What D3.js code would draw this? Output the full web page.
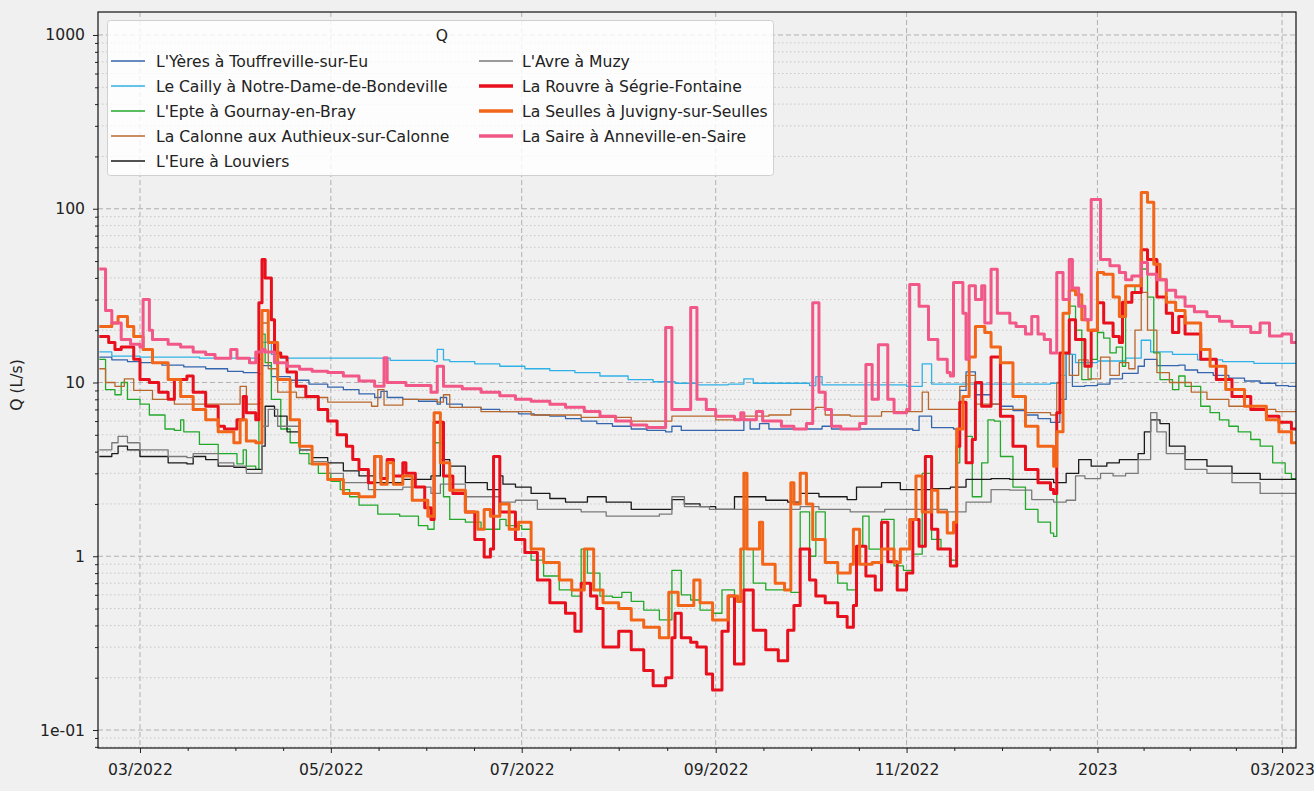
<!DOCTYPE html>
<html><head><meta charset="utf-8">
<script src="https://cdn.jsdelivr.net/npm/d3@7"></script>
<style>
body{margin:0;background:#f0f0f0;}
svg{display:block;font-family:"DejaVu Sans",sans-serif;}
</style>
</head><body>
<svg id="chart" width="1314" height="791"></svg>
<script>
// ---------------- DATA ----------------
const seriesNames = [
  "L'Yères à Touffreville-sur-Eu",
  "Le Cailly à Notre-Dame-de-Bondeville",
  "L'Epte à Gournay-en-Bray",
  "La Calonne aux Authieux-sur-Calonne",
  "L'Eure à Louviers",
  "L'Avre à Muzy",
  "La Rouvre à Ségrie-Fontaine",
  "La Seulles à Juvigny-sur-Seulles",
  "La Saire à Anneville-en-Saire"
];
const legendTitle = "Q";
const yAxisLabel = "Q (L/s)";
const yTickValues = [0.1, 1, 10, 100, 1000];
const yTickLabels = ["1e-01", "1", "10", "100", "1000"];
const xTickDates = ["2022-03-01","2022-05-01","2022-07-01","2022-09-01","2022-11-01","2023-01-01","2023-03-01"];
const xTickLabels = ["03/2022","05/2022","07/2022","09/2022","11/2022","2023","03/2023"];

const yeres = [["2022-02-16",14],["2022-02-20",13.5],["2022-02-25",13.2],["2022-03-01",13],["2022-03-08",12.6],["2022-03-15",12.3],["2022-03-22",12.0],["2022-03-29",11.6],["2022-04-03",11.4],["2022-04-08",11.2],["2022-04-09",12.5],["2022-04-12",10.8],["2022-04-18",10.3],["2022-04-24",9.8],["2022-04-30",9.4],["2022-05-05",9.1],["2022-05-10",8.6],["2022-05-15",8.2],["2022-05-17",8.9],["2022-05-19",8.2],["2022-05-24",8.0],["2022-05-29",7.8],["2022-06-04",7.5],["2022-06-05",8.2],["2022-06-07",7.5],["2022-06-12",7.2],["2022-06-18",7.0],["2022-06-24",6.8],["2022-06-30",6.6],["2022-07-05",6.5],["2022-07-10",6.4],["2022-07-15",6.2],["2022-07-20",6.0],["2022-07-25",5.8],["2022-07-30",5.6],["2022-08-05",5.4],["2022-08-10",5.3],["2022-08-16",5.2],["2022-08-18",5.6],["2022-08-21",5.3],["2022-09-01",5.3],["2022-09-10",6.1],["2022-09-12",5.4],["2022-09-15",5.8],["2022-09-18",5.4],["2022-10-05",5.6],["2022-10-08",5.4],["2022-10-20",5.4],["2022-11-03",5.3],["2022-11-05",6.4],["2022-11-09",5.5],["2022-11-16",5.4],["2022-11-18",9],["2022-11-20",11.5],["2022-11-23",8.5],["2022-11-28",7.5],["2022-12-01",7.3],["2022-12-05",6.9],["2022-12-09",6.5],["2022-12-13",6.2],["2022-12-17",5.9],["2022-12-20",8],["2022-12-22",14.5],["2022-12-24",9.5],["2022-12-28",9.6],["2023-01-01",9.8],["2023-01-05",10.5],["2023-01-09",11.3],["2023-01-14",12.4],["2023-01-16",13.6],["2023-01-20",12.5],["2023-01-27",12.6],["2023-01-29",11.8],["2023-02-02",11.4],["2023-02-07",11],["2023-02-12",10.6],["2023-02-17",10.2],["2023-02-22",9.9],["2023-02-27",9.6],["2023-03-03",9.5],["2023-03-06",9.4]];

const cailly = [["2022-02-16",15],["2022-02-20",14.2],["2022-03-01",14],["2022-03-20",13.8],["2022-04-08",13.6],["2022-04-09",17],["2022-04-12",14.5],["2022-04-15",13.8],["2022-05-20",13.4],["2022-06-03",13.2],["2022-06-04",15.5],["2022-06-06",13.5],["2022-06-08",13.2],["2022-06-16",12.8],["2022-06-24",12.4],["2022-07-02",12.0],["2022-07-10",11.7],["2022-07-18",11.4],["2022-07-26",10.9],["2022-08-04",10.4],["2022-08-12",10.1],["2022-08-19",9.9],["2022-08-26",9.7],["2022-09-05",9.8],["2022-09-10",10.5],["2022-09-13",9.9],["2022-10-01",9.6],["2022-10-03",10.8],["2022-10-05",9.7],["2022-11-01",9.5],["2022-11-06",12.8],["2022-11-09",9.8],["2022-12-17",9.9],["2022-12-20",11],["2022-12-22",14.5],["2022-12-25",13],["2023-01-01",13.3],["2023-01-10",13.8],["2023-01-15",17.5],["2023-01-18",15],["2023-01-25",14.5],["2023-02-02",13.5],["2023-02-10",13.2],["2023-02-20",12.9],["2023-03-06",12.7]];

const epte = [["2022-02-16",13.6],["2022-02-18",9.1],["2022-02-21",8.5],["2022-02-23",10],["2022-02-25",8],["2022-03-01",7.5],["2022-03-04",6.5],["2022-03-09",5.4],["2022-03-12",5.3],["2022-03-14",6.1],["2022-03-15",5.2],["2022-03-20",4.4],["2022-03-26",3.9],["2022-04-01",3.4],["2022-04-03",4.1],["2022-04-04",3.3],["2022-04-07",3.16],["2022-04-08",8],["2022-04-09",19],["2022-04-10",13],["2022-04-12",8],["2022-04-15",5.4],["2022-04-18",4.5],["2022-04-21",3.9],["2022-04-24",3.4],["2022-04-27",3.0],["2022-05-01",2.7],["2022-05-04",2.42],["2022-05-07",2.2],["2022-05-10",1.97],["2022-05-16",1.75],["2022-05-23",1.7],["2022-05-29",1.5],["2022-06-01",1.43],["2022-06-03",4.5],["2022-06-06",2.2],["2022-06-08",1.63],["2022-06-13",1.57],["2022-06-18",1.43],["2022-06-24",1.63],["2022-06-26",1.5],["2022-07-01",1.43],["2022-07-04",0.95],["2022-07-08",0.77],["2022-07-13",0.64],["2022-07-17",0.59],["2022-07-20",1.1],["2022-07-22",0.8],["2022-07-26",0.59],["2022-07-30",0.58],["2022-08-02",0.62],["2022-08-05",0.55],["2022-08-09",0.49],["2022-08-14",0.43],["2022-08-18",0.83],["2022-08-21",0.6],["2022-08-24",0.56],["2022-08-27",0.49],["2022-08-31",0.47],["2022-09-03",0.64],["2022-09-07",0.55],["2022-09-10",1.1],["2022-09-13",0.7],["2022-09-17",0.64],["2022-09-25",0.62],["2022-09-28",1.8],["2022-10-01",1.0],["2022-10-03",1.8],["2022-10-06",0.92],["2022-10-10",0.7],["2022-10-13",0.64],["2022-10-16",1.14],["2022-10-18",1.7],["2022-10-20",1.1],["2022-10-24",1.63],["2022-10-28",0.88],["2022-10-31",0.83],["2022-11-03",1.03],["2022-11-06",3.0],["2022-11-09",1.25],["2022-11-12",1.1],["2022-11-15",0.95],["2022-11-17",3.45],["2022-11-18",7.7],["2022-11-20",4.9],["2022-11-22",2.2],["2022-11-25",3.45],["2022-11-27",6.1],["2022-11-29",6.0],["2022-12-01",3.75],["2022-12-05",2.5],["2022-12-09",1.86],["2022-12-13",1.57],["2022-12-17",1.36],["2022-12-18",1.3],["2022-12-19",6.7],["2022-12-21",14.8],["2022-12-23",27.5],["2022-12-25",20],["2022-12-27",10.4],["2022-12-30",13.6],["2023-01-01",19.4],["2023-01-03",18],["2023-01-05",14.8],["2023-01-07",16],["2023-01-09",12.4],["2023-01-10",36],["2023-01-13",33],["2023-01-15",45],["2023-01-17",31],["2023-01-19",14.8],["2023-01-21",10.4],["2023-01-25",9.1],["2023-01-27",10.9],["2023-01-29",9.5],["2023-02-03",7.3],["2023-02-06",6.7],["2023-02-09",6.1],["2023-02-12",5.6],["2023-02-15",5.2],["2023-02-19",4.7],["2023-02-22",4.3],["2023-02-26",3.45],["2023-03-02",3.0],["2023-03-04",2.8],["2023-03-06",2.8]];

const calonne = [["2022-02-16",12],["2022-02-18",10],["2022-02-21",9.5],["2022-02-24",10.5],["2022-02-27",9],["2022-03-05",8],["2022-03-12",7.5],["2022-03-31",7.5],["2022-04-02",9.5],["2022-04-04",7.5],["2022-04-08",7.6],["2022-04-09",22],["2022-04-11",12],["2022-04-14",8.8],["2022-04-20",8.2],["2022-04-30",7.7],["2022-05-14",7.3],["2022-05-16",9.1],["2022-05-18",7.4],["2022-05-24",8.0],["2022-06-04",7.7],["2022-06-06",8.5],["2022-06-08",7.2],["2022-06-18",6.8],["2022-07-04",6.5],["2022-07-20",6.3],["2022-08-05",6.0],["2022-08-16",6.0],["2022-08-18",6.4],["2022-09-01",6.1],["2022-09-10",6.4],["2022-09-18",6.5],["2022-09-25",7.0],["2022-10-03",7.2],["2022-10-06",6.5],["2022-10-14",6.4],["2022-10-24",6.8],["2022-11-05",6.8],["2022-11-06",8.8],["2022-11-08",7.0],["2022-11-16",7.0],["2022-11-18",9.5],["2022-11-20",11],["2022-11-23",7.5],["2022-12-01",7.0],["2022-12-09",6.7],["2022-12-17",6.5],["2022-12-19",10],["2022-12-21",14.8],["2022-12-23",11],["2022-12-26",13.5],["2022-12-29",10.5],["2023-01-02",14],["2023-01-05",11],["2023-01-08",13],["2023-01-11",12],["2023-01-13",20],["2023-01-15",33],["2023-01-17",20],["2023-01-20",11.4],["2023-01-24",10],["2023-01-31",8.8],["2023-02-05",8.0],["2023-02-12",7.3],["2023-02-20",7.0],["2023-02-27",6.8],["2023-03-06",6.7]];

const eure = [["2022-02-16",3.75],["2022-02-20",3.9],["2022-02-22",4.3],["2022-02-25",4.1],["2022-03-01",3.75],["2022-03-10",3.45],["2022-03-16",3.4],["2022-03-18",3.75],["2022-03-22",3.6],["2022-03-26",3.3],["2022-03-31",3.25],["2022-04-04",3.16],["2022-04-09",4.3],["2022-04-10",7.3],["2022-04-13",6.4],["2022-04-17",5.2],["2022-04-21",4.1],["2022-04-25",3.7],["2022-04-30",3.45],["2022-05-05",3.1],["2022-05-10",2.9],["2022-05-15",2.65],["2022-05-24",2.77],["2022-06-02",2.9],["2022-06-05",3.6],["2022-06-08",3.3],["2022-06-13",2.65],["2022-06-20",2.42],["2022-06-24",2.9],["2022-06-25",2.6],["2022-06-29",2.5],["2022-07-04",2.3],["2022-07-10",2.15],["2022-07-15",2.05],["2022-07-22",2.2],["2022-07-28",2.05],["2022-08-05",1.86],["2022-08-18",2.12],["2022-08-22",2.0],["2022-08-27",1.93],["2022-09-01",1.86],["2022-09-07",2.2],["2022-09-17",2.1],["2022-09-24",2.05],["2022-09-28",2.3],["2022-10-04",2.2],["2022-10-13",2.12],["2022-10-16",2.5],["2022-10-24",2.65],["2022-10-30",2.42],["2022-11-09",2.45],["2022-11-15",2.5],["2022-11-20",2.77],["2022-11-28",2.8],["2022-12-04",2.77],["2022-12-18",2.65],["2022-12-22",3.0],["2022-12-26",3.6],["2022-12-30",3.3],["2023-01-04",3.45],["2023-01-08",3.6],["2023-01-14",3.9],["2023-01-16",5.2],["2023-01-18",6.1],["2023-01-21",5.8],["2023-01-24",4.3],["2023-01-29",3.6],["2023-02-05",3.3],["2023-02-13",3.0],["2023-02-22",2.77],["2023-03-06",2.65]];

const avre = [["2022-02-16",4.1],["2022-02-20",4.5],["2022-02-22",4.9],["2022-02-25",4.5],["2022-03-01",4.1],["2022-03-10",3.75],["2022-03-16",3.7],["2022-03-18",3.9],["2022-03-26",3.45],["2022-03-31",3.3],["2022-04-04",3.0],["2022-04-09",5.6],["2022-04-11",7],["2022-04-14",5.6],["2022-04-21",4.1],["2022-04-25",3.5],["2022-04-30",3.0],["2022-05-05",2.65],["2022-05-13",2.42],["2022-05-24",2.5],["2022-06-02",2.3],["2022-06-05",2.6],["2022-06-13",2.2],["2022-06-24",2.05],["2022-06-29",2.1],["2022-07-06",1.86],["2022-07-20",1.8],["2022-07-28",1.7],["2022-08-14",1.75],["2022-08-18",2.2],["2022-08-22",1.93],["2022-08-30",1.86],["2022-09-28",1.93],["2022-10-04",1.86],["2022-10-14",1.8],["2022-10-25",1.86],["2022-11-14",1.8],["2022-11-20",2.05],["2022-11-28",2.42],["2022-12-04",2.4],["2022-12-11",2.12],["2022-12-18",2.05],["2022-12-22",2.1],["2022-12-25",2.9],["2022-12-28",2.8],["2023-01-02",3.0],["2023-01-06",2.9],["2023-01-10",3.0],["2023-01-14",3.6],["2023-01-18",6.7],["2023-01-20",5.2],["2023-01-23",3.9],["2023-01-29",3.16],["2023-02-05",3.0],["2023-02-13",2.65],["2023-02-22",2.3],["2023-03-06",2.2]];

const rouvre = [["2022-02-16",18.4],["2022-02-19",17],["2022-02-21",15.5],["2022-02-23",16],["2022-02-27",13.6],["2022-03-01",10.4],["2022-03-04",10],["2022-03-07",8.8],["2022-03-10",8],["2022-03-12",10.4],["2022-03-16",10.9],["2022-03-18",8.8],["2022-03-22",7.3],["2022-03-26",5.6],["2022-03-28",5.4],["2022-04-01",6.1],["2022-04-03",8.3],["2022-04-04",6.7],["2022-04-07",6.1],["2022-04-08",28.8],["2022-04-09",51],["2022-04-10",40],["2022-04-12",23],["2022-04-13",14.8],["2022-04-15",14],["2022-04-17",11.5],["2022-04-20",9.5],["2022-04-23",8.3],["2022-04-27",7.0],["2022-04-30",6.0],["2022-05-03",5.0],["2022-05-06",4.3],["2022-05-08",3.6],["2022-05-10",3.16],["2022-05-13",2.65],["2022-05-15",3.75],["2022-05-17",2.8],["2022-05-19",3.6],["2022-05-21",2.9],["2022-05-24",3.45],["2022-05-25",3.0],["2022-05-28",2.5],["2022-05-31",1.9],["2022-06-02",1.63],["2022-06-03",5.9],["2022-06-06",2.9],["2022-06-09",2.3],["2022-06-13",1.8],["2022-06-16",1.25],["2022-06-19",0.99],["2022-06-21",1.1],["2022-06-22",3.75],["2022-06-24",1.8],["2022-06-29",1.25],["2022-07-02",1.05],["2022-07-06",0.73],["2022-07-10",0.54],["2022-07-15",0.47],["2022-07-18",0.37],["2022-07-20",0.7],["2022-07-23",0.59],["2022-07-25",0.5],["2022-07-27",0.3],["2022-08-01",0.37],["2022-08-05",0.29],["2022-08-09",0.22],["2022-08-12",0.18],["2022-08-16",0.2],["2022-08-18",0.34],["2022-08-19",0.47],["2022-08-21",0.34],["2022-08-24",0.32],["2022-08-26",0.3],["2022-08-29",0.21],["2022-08-31",0.17],["2022-09-03",0.37],["2022-09-05",0.59],["2022-09-07",0.24],["2022-09-10",0.64],["2022-09-13",0.375],["2022-09-17",0.29],["2022-09-21",0.25],["2022-09-24",0.375],["2022-09-26",0.52],["2022-09-28",1.1],["2022-10-01",0.73],["2022-10-03",0.59],["2022-10-06",0.54],["2022-10-10",0.45],["2022-10-13",0.39],["2022-10-15",0.52],["2022-10-16",1.14],["2022-10-19",0.77],["2022-10-22",0.64],["2022-10-24",1.57],["2022-10-26",0.93],["2022-10-29",0.64],["2022-11-01",0.8],["2022-11-03",1.63],["2022-11-05",1.14],["2022-11-07",3.75],["2022-11-09",1.43],["2022-11-11",1.1],["2022-11-15",0.88],["2022-11-17",4.3],["2022-11-18",7.7],["2022-11-20",3.45],["2022-11-22",4.7],["2022-11-23",10],["2022-11-25",7.3],["2022-11-28",14],["2022-12-01",6.4],["2022-12-05",4.3],["2022-12-09",3.16],["2022-12-13",2.65],["2022-12-17",2.42],["2022-12-18",2.3],["2022-12-19",6.7],["2022-12-20",14.8],["2022-12-23",23],["2022-12-25",17.7],["2022-12-28",12.4],["2022-12-30",20],["2023-01-01",28.8],["2023-01-03",22],["2023-01-06",18.4],["2023-01-08",17],["2023-01-09",29],["2023-01-12",33],["2023-01-15",58],["2023-01-17",51],["2023-01-20",31],["2023-01-23",25],["2023-01-25",19.4],["2023-01-27",24],["2023-01-29",19],["2023-02-03",13.6],["2023-02-08",10.4],["2023-02-13",8.3],["2023-02-19",7.0],["2023-02-24",6.4],["2023-02-28",5.9],["2023-03-04",5.4],["2023-03-06",5.2]];

const seulles = [["2022-02-16",21],["2022-02-20",22],["2022-02-22",24],["2022-02-25",21],["2022-02-27",18.4],["2022-03-02",15.5],["2022-03-05",13],["2022-03-10",10.4],["2022-03-14",8.3],["2022-03-18",7],["2022-03-22",6.1],["2022-03-26",5.2],["2022-03-31",4.5],["2022-04-02",6.1],["2022-04-04",4.6],["2022-04-07",4.5],["2022-04-09",26],["2022-04-11",17],["2022-04-14",10.4],["2022-04-18",6.1],["2022-04-21",4.3],["2022-04-25",3.4],["2022-04-30",2.77],["2022-05-05",2.3],["2022-05-10",2.2],["2022-05-15",3.75],["2022-05-17",2.6],["2022-05-19",3.45],["2022-05-21",2.6],["2022-05-24",2.9],["2022-05-27",2.1],["2022-06-01",1.7],["2022-06-03",6.7],["2022-06-05",3.45],["2022-06-08",2.4],["2022-06-13",1.8],["2022-06-17",1.43],["2022-06-19",1.86],["2022-06-21",1.7],["2022-06-24",2.0],["2022-06-27",1.43],["2022-06-30",1.57],["2022-07-04",1.1],["2022-07-08",0.92],["2022-07-13",0.73],["2022-07-17",0.64],["2022-07-21",1.1],["2022-07-24",0.64],["2022-07-27",0.54],["2022-08-01",0.5],["2022-08-05",0.43],["2022-08-09",0.39],["2022-08-14",0.34],["2022-08-17",0.62],["2022-08-20",0.52],["2022-08-25",0.73],["2022-08-27",0.54],["2022-08-31",0.43],["2022-09-05",0.59],["2022-09-08",0.55],["2022-09-09",1.1],["2022-09-10",3.0],["2022-09-11",1.1],["2022-09-15",1.57],["2022-09-16",0.9],["2022-09-20",0.7],["2022-09-23",0.64],["2022-09-25",2.65],["2022-09-26",2.0],["2022-09-28",3.0],["2022-09-30",2.0],["2022-10-02",1.25],["2022-10-06",0.92],["2022-10-10",0.8],["2022-10-14",0.9],["2022-10-15",1.43],["2022-10-17",0.9],["2022-10-21",0.92],["2022-10-24",1.1],["2022-10-28",0.92],["2022-10-30",1.1],["2022-11-02",1.63],["2022-11-04",2.9],["2022-11-06",1.8],["2022-11-09",2.4],["2022-11-11",1.8],["2022-11-14",1.36],["2022-11-16",1.57],["2022-11-17",5.4],["2022-11-19",8.3],["2022-11-21",14],["2022-11-23",21],["2022-11-26",19.4],["2022-11-28",16],["2022-12-01",13],["2022-12-05",8.3],["2022-12-09",5.6],["2022-12-13",4.3],["2022-12-18",3.3],["2022-12-19",5.2],["2022-12-21",25],["2022-12-23",34],["2022-12-25",32],["2022-12-27",23],["2022-12-29",20],["2023-01-01",43],["2023-01-03",42],["2023-01-06",31],["2023-01-08",24],["2023-01-10",36],["2023-01-13",36],["2023-01-15",124],["2023-01-17",109],["2023-01-19",48],["2023-01-21",39],["2023-01-23",29],["2023-01-26",26],["2023-01-29",22],["2023-02-03",15.5],["2023-02-06",12.4],["2023-02-11",9.1],["2023-02-17",7.3],["2023-02-24",6.1],["2023-02-28",5.2],["2023-03-04",4.5],["2023-03-06",4.4]];

const saire = [["2022-02-16",45],["2022-02-18",26],["2022-02-20",22],["2022-02-23",17.7],["2022-02-26",16.6],["2022-03-01",16],["2022-03-02",30],["2022-03-04",20],["2022-03-05",17.7],["2022-03-10",16.6],["2022-03-14",16],["2022-03-18",15],["2022-03-22",14.5],["2022-03-25",13.8],["2022-03-30",15.5],["2022-04-01",13.8],["2022-04-05",13],["2022-04-07",15],["2022-04-09",15.5],["2022-04-10",15],["2022-04-13",13],["2022-04-17",12.4],["2022-04-21",11.9],["2022-04-25",11.6],["2022-04-30",11.4],["2022-05-05",10.9],["2022-05-10",10.2],["2022-05-15",9.5],["2022-05-18",13.9],["2022-05-19",10],["2022-05-25",9.6],["2022-06-02",8.8],["2022-06-04",12.4],["2022-06-06",9.5],["2022-06-12",9.2],["2022-06-18",8.8],["2022-06-24",8.4],["2022-06-29",8.0],["2022-07-04",7.8],["2022-07-10",7.5],["2022-07-15",7.2],["2022-07-21",6.8],["2022-07-26",6.4],["2022-07-31",6.0],["2022-08-05",5.7],["2022-08-10",5.5],["2022-08-16",20.7],["2022-08-18",7.0],["2022-08-24",27],["2022-08-26",8],["2022-08-29",7],["2022-09-01",6.4],["2022-09-07",6.1],["2022-09-09",6.7],["2022-09-10",6.1],["2022-09-14",6.8],["2022-09-16",6.0],["2022-09-22",5.6],["2022-09-26",5.4],["2022-09-30",5.8],["2022-10-02",28.8],["2022-10-04",8.8],["2022-10-06",7],["2022-10-08",5.6],["2022-10-11",5.4],["2022-10-17",5.8],["2022-10-19",12.7],["2022-10-21",8],["2022-10-23",16.5],["2022-10-26",8],["2022-10-28",6.7],["2022-11-01",7],["2022-11-02",36.6],["2022-11-05",27.5],["2022-11-08",17.7],["2022-11-11",13.6],["2022-11-14",11.4],["2022-11-15",10.9],["2022-11-16",37.6],["2022-11-19",25],["2022-11-20",13.6],["2022-11-21",36],["2022-11-23",30],["2022-11-25",36],["2022-11-26",22],["2022-11-28",44.8],["2022-11-30",25],["2022-12-04",22],["2022-12-06",21],["2022-12-09",19],["2022-12-11",24],["2022-12-13",19],["2022-12-15",17.7],["2022-12-17",14.8],["2022-12-19",43],["2022-12-21",30],["2022-12-23",51],["2022-12-24",35],["2022-12-26",27.5],["2022-12-28",23],["2022-12-30",113],["2023-01-02",51],["2023-01-05",47],["2023-01-08",43],["2023-01-10",39],["2023-01-12",41],["2023-01-15",49],["2023-01-17",42],["2023-01-20",39],["2023-01-23",34],["2023-01-26",31],["2023-01-29",27.5],["2023-02-01",25.5],["2023-02-05",24],["2023-02-09",22.5],["2023-02-13",21],["2023-02-19",19.4],["2023-02-22",22],["2023-02-25",18.5],["2023-03-01",19],["2023-03-04",17],["2023-03-06",17]];

const seriesData = [yeres, cailly, epte, calonne, eure, avre, rouvre, seulles, saire];

// ---------------- STYLE ----------------
const seriesColors = ["#3565ad","#2fb0e6","#22a82a","#b8682e","#1a1a1a","#7a7a7a","#e8101c","#f2661a","#f15887"];
const seriesWidths = [1.3,1.3,1.3,1.3,1.3,1.3,3,3,3];

const svg = d3.select("#chart");
const W = 1314, H = 791;
const m = {left: 98, right: 1296, top: 12, bottom: 748};
const parse = d3.timeParse("%Y-%m-%d");
const fs = 15.6;

svg.append("rect").attr("width", W).attr("height", H).attr("fill", "#f0f0f0");

const x = d3.scaleTime()
  .domain([new Date(2022, 1, 15, 14), new Date(2023, 2, 5, 11)])
  .range([m.left, m.right]);
const y = d3.scaleLog().domain([0.0788, 1356]).range([m.bottom, m.top]);

const xMajor = xTickDates.map(parse);
const xMinor = [];
for (let i = 0; i < xMajor.length - 1; i++) {
  const a = +xMajor[i], b = +xMajor[i + 1];
  for (let k = 1; k < 4; k++) xMinor.push(new Date(a + (b - a) * k / 4));
}
const yMinor = [];
[0.01, 0.1, 1, 10, 100, 1000].forEach(d => {
  for (let k = 2; k <= 9; k++) {
    const v = k * d;
    if (v > y.domain()[0] && v < y.domain()[1]) yMinor.push(v);
  }
});

// grid
const grid = svg.append("g");
grid.selectAll(".ymin").data(yMinor).join("line")
  .attr("x1", m.left).attr("x2", m.right)
  .attr("y1", d => y(d)).attr("y2", d => y(d))
  .attr("stroke", "#c2c2c2").attr("stroke-width", 0.9).attr("stroke-dasharray", "1.5,2.5");
grid.selectAll(".ymaj").data(yTickValues).join("line")
  .attr("x1", m.left).attr("x2", m.right)
  .attr("y1", d => y(d)).attr("y2", d => y(d))
  .attr("stroke", "#b0b0b0").attr("stroke-width", 1).attr("stroke-dasharray", "5,3");
grid.selectAll(".xmaj").data(xMajor).join("line")
  .attr("x1", d => x(d)).attr("x2", d => x(d))
  .attr("y1", m.top).attr("y2", m.bottom)
  .attr("stroke", "#b0b0b0").attr("stroke-width", 1).attr("stroke-dasharray", "5,3");

// clip
svg.append("clipPath").attr("id", "clip").append("rect")
  .attr("x", m.left).attr("y", m.top).attr("width", m.right - m.left).attr("height", m.bottom - m.top);

const line = d3.line()
  .x(d => x(parse(d[0])))
  .y(d => y(d[1]))
  .curve(d3.curveStepAfter);

const lines = svg.append("g").attr("clip-path", "url(#clip)");
seriesData.forEach((s, i) => {
  lines.append("path").datum(s)
    .attr("d", line)
    .attr("fill", "none")
    .attr("stroke", seriesColors[i])
    .attr("stroke-width", seriesWidths[i])
    .attr("stroke-linejoin", "round");
});

// axes
const gx = svg.append("g").attr("transform", `translate(0,${m.bottom})`)
  .call(d3.axisBottom(x).tickValues(xMajor).tickFormat((d, i) => xTickLabels[i]).tickSize(5).tickPadding(8));
gx.select(".domain").remove();
gx.selectAll("text").attr("font-size", fs).attr("font-family", "DejaVu Sans").attr("fill", "#222").attr("y", 16);
gx.selectAll("line").attr("stroke", "#222");
const gxm = svg.append("g").attr("transform", `translate(0,${m.bottom})`)
  .call(d3.axisBottom(x).tickValues(xMinor).tickFormat("").tickSize(3));
gxm.select(".domain").remove();
gxm.selectAll("line").attr("stroke", "#222");

const gy = svg.append("g").attr("transform", `translate(${m.left},0)`)
  .call(d3.axisLeft(y).tickValues(yTickValues).tickFormat((d, i) => yTickLabels[i]).tickSize(5).tickPadding(8));
gy.select(".domain").remove();
gy.selectAll("text").attr("font-size", fs).attr("font-family", "DejaVu Sans").attr("fill", "#222");
gy.selectAll("line").attr("stroke", "#222");
const gym = svg.append("g").attr("transform", `translate(${m.left},0)`)
  .call(d3.axisLeft(y).tickValues(yMinor).tickFormat("").tickSize(3));
gym.select(".domain").remove();
gym.selectAll("line").attr("stroke", "#222");

svg.append("rect").attr("x", m.left).attr("y", m.top)
  .attr("width", m.right - m.left).attr("height", m.bottom - m.top)
  .attr("fill", "none").attr("stroke", "#111").attr("stroke-width", 1.2);

svg.append("text")
  .attr("transform", `translate(22,${(m.top + m.bottom) / 2 + 5}) rotate(-90)`)
  .attr("text-anchor", "middle").attr("font-size", fs).attr("fill", "#222")
  .text(yAxisLabel);

// legend
const lg = svg.append("g");
lg.append("rect").attr("x", 107.5).attr("y", 20.5).attr("width", 666).attr("height", 155).attr("rx", 3)
  .attr("fill", "#ffffff").attr("fill-opacity", 0.82).attr("stroke", "#d0d0d0").attr("stroke-width", 1);
lg.append("text").attr("x", 442).attr("y", 41).attr("text-anchor", "middle")
  .attr("font-size", fs).attr("fill", "#222").text(legendTitle);
const colX = [111, 479];
const textX = [156, 522];
seriesNames.forEach((name, i) => {
  const col = i < 5 ? 0 : 1;
  const row = i < 5 ? i : i - 5;
  const cy = 61 + row * 25;
  lg.append("line").attr("x1", colX[col]).attr("x2", colX[col] + 34).attr("y1", cy).attr("y2", cy)
    .attr("stroke", seriesColors[i]).attr("stroke-width", seriesWidths[i] === 3 ? 3.5 : 1.6);
  lg.append("text").attr("x", textX[col]).attr("y", cy + 5.5)
    .attr("font-size", fs).attr("fill", "#222").text(name);
});
</script>
</body></html>
